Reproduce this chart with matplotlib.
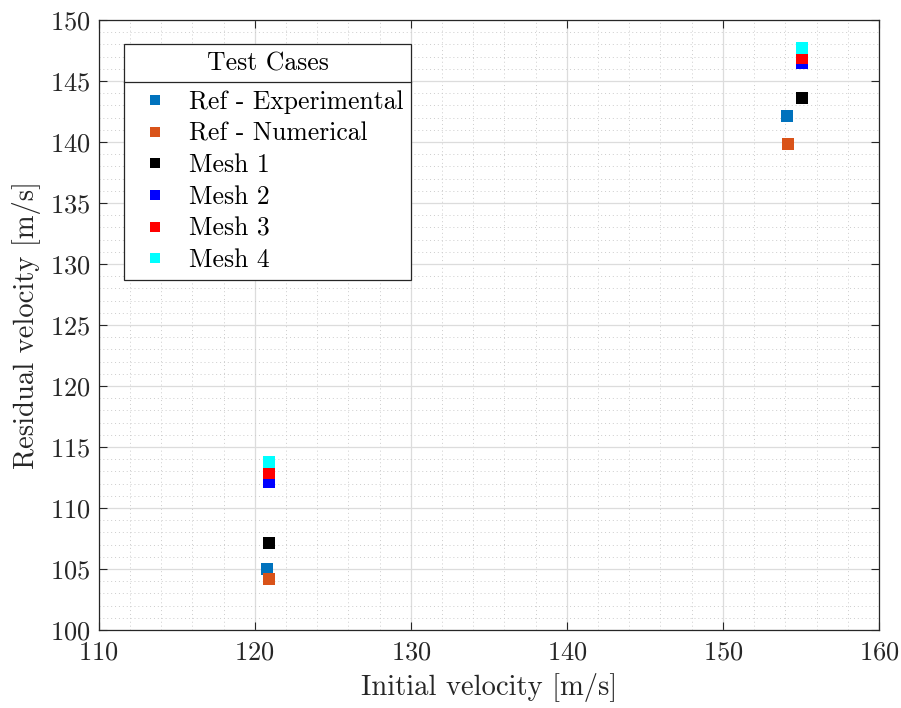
import matplotlib
matplotlib.use("Agg")
import matplotlib.pyplot as plt
from matplotlib.ticker import MultipleLocator
from matplotlib.lines import Line2D

plt.rcParams['font.family'] = 'serif'
plt.rcParams['font.serif'] = ['cmr10']
plt.rcParams['mathtext.fontset'] = 'cm'
plt.rcParams['axes.unicode_minus'] = False
plt.rcParams['axes.formatter.use_mathtext'] = True

# data: (initial velocity, residual velocity) for each test case
labels = ['Ref - Experimental', 'Ref - Numerical', 'Mesh 1', 'Mesh 2', 'Mesh 3', 'Mesh 4']
colors = ['#0072BD', '#D95319', 'black', 'blue', 'red', 'cyan']
v_init = [
    [120.8, 154.1],
    [120.9, 154.2],
    [120.9, 155.1],
    [120.9, 155.1],
    [120.9, 155.1],
    [120.9, 155.1],
]
v_res = [
    [105.0, 142.1],
    [104.2, 139.8],
    [107.1, 143.6],
    [112.1, 146.5],
    [112.9, 146.9],
    [113.8, 147.7],
]

fig = plt.figure(figsize=(9.01, 7.08), dpi=100)
ax = fig.add_axes([0.1095, 0.1102, 0.866, 0.8616])

for x, y, c, lab in zip(v_init, v_res, colors, labels):
    ax.plot(x, y, 's', color=c, markersize=8.5, markeredgewidth=0, label=lab, zorder=3)

ax.set_xlim(110, 160)
ax.set_ylim(100, 150)
ax.xaxis.set_major_locator(MultipleLocator(10))
ax.xaxis.set_minor_locator(MultipleLocator(2))
ax.yaxis.set_major_locator(MultipleLocator(5))
ax.yaxis.set_minor_locator(MultipleLocator(1))
ax.grid(True, which='major', color='#dcdcdc', linewidth=0.9)
ax.grid(True, which='minor', color='#cccccc', linestyle=(0, (1, 3)), linewidth=0.7)
ax.set_axisbelow(True)
ax.tick_params(which='both', direction='in', top=True, right=True, colors='#262626',
               labelsize=19)
ax.tick_params(axis='x', pad=8)
ax.tick_params(axis='y', pad=6)
ax.tick_params(which='major', length=6)
ax.tick_params(which='minor', length=0)
for s in ax.spines.values():
    s.set_color('#262626')
    s.set_linewidth(0.9)

ax.set_xlabel('Initial velocity [m/s]', fontsize=20.6, color='#262626', labelpad=6)
ax.set_ylabel('Residual velocity [m/s]', fontsize=20.6, color='#262626', labelpad=6)

handles = [Line2D([], [], marker='s', linestyle='none', color=c, markersize=6.5,
                  markeredgewidth=0) for c in colors]
leg = ax.legend(handles, labels, title='Test Cases', loc='upper left',
                bbox_to_anchor=(0.033, 0.961), borderaxespad=0,
                fontsize=18.5, title_fontsize=18.5,
                fancybox=False, edgecolor='#262626', framealpha=1,
                handlelength=1.8, handletextpad=0.4, labelspacing=0.31,
                borderpad=0.3)
leg.get_frame().set_linewidth(0.9)
# a bit more room between the title and the entries
leg._legend_box.sep += 5

# separator line below the legend title
fig.canvas.draw()
lb = leg.get_window_extent()
tb = leg.get_title().get_window_extent()
ysep = (tb.y0 + tb.y1) / 2 - 19
inv = fig.transFigure.inverted()
(x0, y0), (x1, _) = inv.transform([(lb.x0, ysep), (lb.x1, ysep)])
fig.add_artist(Line2D([x0, x1], [y0, y0], color='#262626', linewidth=0.9))

fig.savefig('out.png', dpi=100)
